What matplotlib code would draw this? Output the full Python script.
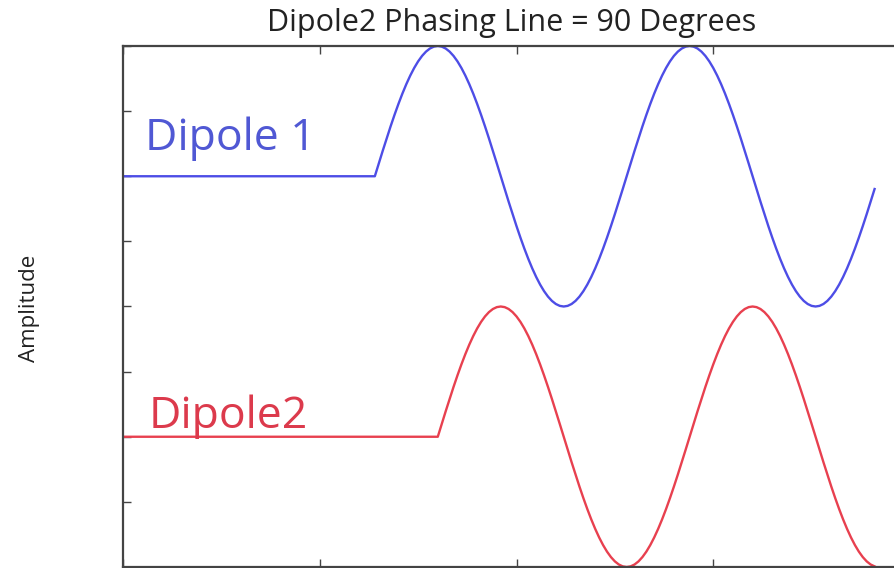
import matplotlib.pyplot as plt
import numpy as np

plt.rcParams['font.family'] = ['Open Sans', 'DejaVu Sans']

# samples and wave parameters
n_samples = 192
period = 64            # samples per cycle
onset_dipole1 = 64     # sample where dipole 1 starts
phase_deg = 90         # phasing line delay of dipole 2
offset_dipole1 = 1.0
offset_dipole2 = -1.0
amplitude = 1.0

x_ticks = [0, 50, 100, 150, 200]
y_ticks = [-2.0, -1.5, -1.0, -0.5, 0.0, 0.5, 1.0, 1.5, 2.0]

t = np.arange(n_samples)
onset_dipole2 = onset_dipole1 + period * phase_deg / 360.0


def burst(start):
    w = amplitude * np.sin(2 * np.pi * (t - start) / period)
    w[t < start] = 0.0
    return w


dipole1 = offset_dipole1 + burst(onset_dipole1)
dipole2 = offset_dipole2 + burst(onset_dipole2)

blue = '#4d4de6'
red = '#e8404f'

fig = plt.figure(figsize=(8.94, 5.68), dpi=100)
ax = fig.add_axes([123 / 894, 1 / 568, 787 / 894, 521 / 568])

ax.plot(t, dipole1, color=blue, lw=1.7)
ax.plot(t, dipole2, color=red, lw=1.7)

ax.text(5.6, 1.2, 'Dipole 1', color='#5058d4', fontsize=32, va='baseline')
ax.text(6.4, -0.93, 'Dipole2', color='#dc3a4c', fontsize=32, va='baseline')

ax.set_xlim(0, 200)
ax.set_ylim(-2, 2)
ax.set_xticks(x_ticks)
ax.set_yticks(y_ticks)
ax.tick_params(direction='in', top=True, right=True, length=6, width=1,
               color='#444444', labelleft=False, labelbottom=False)
for s in ax.spines.values():
    s.set_linewidth(1.6)
    s.set_color('#444444')

fig.text(512 / 894, 1 - 23 / 568, 'Dipole2 Phasing Line = 90 Degrees',
         fontsize=22, ha='center', va='center', color='#222222')
fig.text(30 / 894, 1 - 308 / 568, 'Amplitude', fontsize=16, rotation=90,
         ha='center', va='center', color='#222222')

fig.savefig('out.png', dpi=100)
